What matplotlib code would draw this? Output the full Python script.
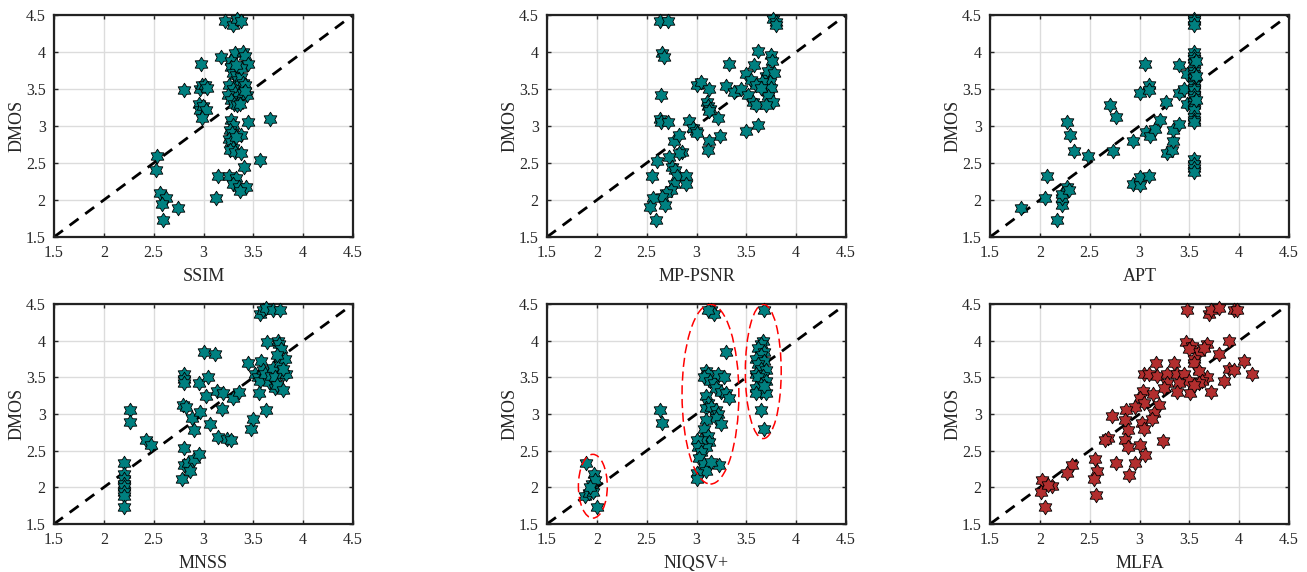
import numpy as np
import matplotlib
matplotlib.use("Agg")
import matplotlib.pyplot as plt
from matplotlib.path import Path
from matplotlib.patches import Ellipse

# ---- data (objective score vs DMOS) ----
ssim_x = [3.22, 3.30, 3.34, 3.38, 3.18, 2.97, 3.32, 3.40, 3.42, 3.45, 3.28,
          2.80, 2.96, 2.98, 3.02, 3.04, 2.95, 2.96, 2.99, 3.03, 2.98,
          3.28, 3.30, 3.33, 3.35, 3.38, 3.40, 3.42, 3.26, 3.30, 3.32, 3.35, 3.40, 3.44,
          3.25, 3.28, 3.31, 3.34, 3.37, 3.42, 3.38, 3.33,
          3.67, 3.45, 3.28, 3.30, 3.27, 3.29, 3.26, 3.28, 3.30, 3.27, 3.32, 3.38, 3.38, 3.33,
          3.57, 3.41, 3.15, 3.26, 3.33, 3.30, 3.36, 3.43, 3.37, 3.13,
          2.53, 2.52, 2.56, 2.62, 2.58, 2.74, 2.59]
ssim_y = [4.42, 4.37, 4.45, 4.42, 3.93, 3.84, 3.98, 4.00, 3.95, 3.84, 3.88,
          3.49, 3.50, 3.55, 3.55, 3.52, 3.30, 3.22, 3.27, 3.22, 3.11,
          3.80, 3.72, 3.69, 3.62, 3.66, 3.58, 3.55, 3.55, 3.50, 3.45, 3.40, 3.45, 3.42,
          3.42, 3.35, 3.30, 3.28, 3.30, 3.47, 3.78, 3.82,
          3.10, 3.05, 3.08, 3.02, 2.95, 2.90, 2.82, 2.78, 2.70, 2.68, 2.65, 2.88, 2.63, 2.85,
          2.54, 2.45, 2.33, 2.33, 2.30, 2.22, 2.18, 2.18, 2.12, 2.03,
          2.59, 2.40, 2.10, 2.03, 1.94, 1.89, 1.73]

mppsnr_x = [2.63, 2.71, 3.77, 3.80, 3.80, 2.65, 2.67,
            3.62, 3.75, 3.76, 3.58, 3.33, 3.50, 3.55, 3.70, 3.72, 3.78, 3.74, 3.66,
            3.00, 3.05, 3.13, 3.30, 3.38, 3.45, 3.52, 3.57, 3.60, 3.72, 3.75, 3.72, 3.77,
            3.70, 3.60, 3.65, 2.64, 3.11, 3.12, 3.14, 3.13, 3.22,
            2.63, 2.64, 2.71, 2.92, 2.96, 2.99, 3.00, 3.50, 3.62, 3.24, 3.13, 3.12,
            2.77, 2.82, 2.85, 2.82, 2.72, 2.60, 2.55, 2.75, 2.78, 2.80, 2.89, 2.89,
            2.77, 2.74, 2.69, 2.65, 2.56, 2.53, 2.68, 2.59]
mppsnr_y = [4.42, 4.42, 4.45, 4.40, 4.37, 3.99, 3.93,
            4.01, 3.96, 3.88, 3.82, 3.84, 3.70, 3.62, 3.68, 3.75, 3.72, 3.60, 3.60,
            3.55, 3.59, 3.50, 3.54, 3.46, 3.50, 3.42, 3.32, 3.28, 3.46, 3.52, 3.40, 3.33,
            3.28, 3.55, 3.52, 3.42, 3.33, 3.27, 3.23, 3.20, 3.11,
            3.09, 3.05, 3.05, 3.07, 2.97, 2.93, 2.90, 2.93, 3.02, 2.86, 2.80, 2.68,
            2.80, 2.88, 2.65, 2.63, 2.58, 2.53, 2.33, 2.45, 2.40, 2.33, 2.32, 2.21,
            2.22, 2.14, 2.10, 2.04, 2.03, 1.90, 1.93, 1.73]

apt_x = [1.81, 2.05, 2.07, 2.17, 2.22, 2.22, 2.22, 2.27, 2.29, 2.27, 2.30, 2.34,
         2.48, 2.73, 2.70, 2.76, 2.93, 2.93, 3.00, 3.01, 3.10, 3.01, 3.06, 3.10,
         3.10, 3.07, 3.11, 3.16, 3.21, 3.27, 3.28, 3.33, 3.34, 3.34, 3.40, 3.40,
         3.40, 3.45, 3.48, 3.48,
         3.55, 3.55, 3.55, 3.55, 3.55, 3.55, 3.55, 3.55, 3.55, 3.55, 3.55, 3.55,
         3.55, 3.55, 3.55, 3.55, 3.55, 3.55, 3.55, 3.55, 3.55, 3.55, 3.55, 3.55,
         3.55, 3.55, 3.57, 3.57, 3.57]
apt_y = [1.89, 2.03, 2.33, 1.73, 1.93, 2.03, 2.08, 2.18, 2.13, 3.05, 2.88, 2.66,
         2.59, 2.66, 3.28, 3.12, 2.80, 2.22, 2.20, 2.31, 2.33, 3.45, 3.84, 3.55,
         3.49, 2.92, 2.86, 2.96, 3.08, 3.33, 2.64, 2.67, 2.80, 2.94, 3.03, 3.45,
         3.82, 3.50, 3.30, 3.70,
         4.45, 4.42, 4.37, 4.00, 3.95, 3.90, 3.85, 3.75, 3.70, 3.65, 3.60, 3.55,
         3.52, 3.48, 3.42, 3.38, 3.32, 3.28, 3.22, 3.12, 3.08, 3.05, 2.55, 2.48,
         2.43, 2.38, 3.68, 3.35, 3.88]

mnss_x = [2.20, 2.20, 2.20, 2.20, 2.20, 2.20, 2.20, 2.20,
          2.26, 2.26, 2.42, 2.47,
          2.78, 2.80, 2.80, 2.84, 2.86, 2.90, 2.95, 2.80, 2.80, 2.80, 2.79, 2.82,
          2.88, 2.90, 2.96, 2.95, 3.00, 3.12, 3.05, 3.03, 3.07, 3.14, 3.20, 3.19,
          3.15, 3.24, 3.28, 3.30, 3.36, 3.48, 3.50, 3.63,
          3.45, 3.52, 3.55, 3.57, 3.56, 3.58, 3.60, 3.62, 3.64, 3.66, 3.68, 3.70,
          3.72, 3.72, 3.74, 3.75, 3.76, 3.77, 3.78, 3.80, 3.80, 3.82, 3.83, 3.80, 3.74,
          3.57, 3.60, 3.63, 3.70, 3.77]
mnss_y = [2.33, 2.18, 2.12, 2.05, 2.00, 1.93, 1.88, 1.73,
          3.05, 2.89, 2.65, 2.58,
          2.12, 2.53, 2.30, 2.33, 2.22, 2.38, 2.45, 3.55, 3.48, 3.42, 3.12, 3.09,
          2.95, 2.78, 3.03, 3.42, 3.84, 3.82, 3.50, 3.24, 2.86, 3.32, 3.28, 3.07,
          2.69, 2.66, 2.64, 3.22, 3.30, 2.80, 2.93, 3.05,
          3.70, 3.55, 3.50, 3.45, 3.29, 3.72, 3.60, 3.55, 3.98, 3.44, 3.52, 3.63,
          3.50, 3.35, 3.40, 4.00, 3.95, 3.70, 3.88, 3.55, 3.33, 3.75, 3.55, 3.62, 3.80,
          4.37, 4.42, 4.45, 4.42, 4.42]

niqsv_x = [1.89, 1.88, 1.92, 1.95, 1.97, 1.98, 1.96, 2.00, 1.93,
           2.63, 2.65,
           3.15, 3.18, 3.12, 3.30,
           3.10, 3.12, 3.08, 3.14, 3.18, 3.22, 3.28, 3.20, 3.25, 3.30, 3.33, 3.10,
           3.12, 3.10, 3.15, 3.20, 3.22, 3.20, 3.25, 3.10, 3.08, 3.12, 3.13, 3.10,
           3.05, 3.00, 3.02, 3.05, 3.03, 3.08, 3.10, 3.00, 3.00, 3.23, 3.15,
           3.68, 3.67, 3.65, 3.62, 3.68, 3.65, 3.60, 3.68, 3.62, 3.65, 3.70, 3.60,
           3.67, 3.62, 3.70, 3.65, 3.60, 3.65, 3.60, 3.70, 3.68, 3.65, 3.68]
niqsv_y = [2.33, 1.88, 1.92, 2.04, 2.18, 2.10, 1.93, 1.73, 2.00,
           3.05, 2.88,
           4.42, 4.37, 4.42, 3.84,
           3.58, 3.55, 3.50, 3.45, 3.42, 3.55, 3.50, 3.35, 3.30, 3.28, 3.22, 3.25,
           3.15, 3.08, 3.10, 3.05, 3.00, 2.95, 2.87, 2.92, 2.80, 2.70, 2.62, 2.55,
           2.65, 2.65, 2.55, 2.48, 2.40, 2.32, 2.22, 2.20, 2.12, 2.30, 2.35,
           4.42, 4.00, 3.95, 3.90, 3.85, 3.80, 3.75, 3.72, 3.68, 3.62, 3.60, 3.55,
           3.52, 3.50, 3.45, 3.40, 3.35, 3.30, 3.28, 3.28, 3.38, 3.05, 2.80]

mlfa_x = [3.48, 3.70, 3.72, 3.80, 3.95, 3.98,
          3.47, 3.53, 3.68, 3.90, 3.80, 3.60, 3.50, 3.55, 3.65,
          3.17, 3.35, 3.55, 4.05, 3.90, 3.95, 4.13, 3.85, 3.72, 3.68, 3.60, 3.63,
          3.05, 3.10, 3.18, 3.28, 3.38, 3.45, 3.50, 3.40, 3.28, 3.38, 3.51, 3.25,
          3.60, 3.55,
          3.04, 3.01, 3.14, 3.05, 2.95, 3.20, 3.15, 2.86, 2.72, 2.85, 3.03, 3.13,
          3.05, 2.88, 2.85, 2.88, 3.01, 2.68, 2.65, 3.24, 3.06, 2.76, 2.95, 2.89,
          2.32, 2.27, 2.55, 2.57, 2.54, 2.56, 2.02, 2.01, 2.12, 2.08, 2.05]
mlfa_y = [4.42, 4.37, 4.42, 4.45, 4.42, 4.42,
          3.98, 3.93, 3.95, 4.00, 3.82, 3.85, 3.88, 3.75, 3.90,
          3.70, 3.70, 3.70, 3.72, 3.62, 3.60, 3.55, 3.45, 3.30, 3.50, 3.58, 3.45,
          3.55, 3.55, 3.52, 3.55, 3.55, 3.55, 3.45, 3.42, 3.42, 3.30, 3.28, 3.35,
          3.42, 3.40,
          3.32, 3.22, 3.27, 3.15, 3.10, 3.12, 3.02, 3.05, 2.97, 2.92, 2.88, 2.93,
          2.80, 2.78, 2.65, 2.55, 2.58, 2.67, 2.65, 2.63, 2.44, 2.33, 2.33, 2.17,
          2.30, 2.20, 2.39, 2.22, 2.12, 1.89, 2.10, 1.93, 2.02, 2.03, 1.73]

metric_names = ["SSIM", "MP-PSNR", "APT", "MNSS", "NIQSV+", "MLFA"]
metric_x = [ssim_x, mppsnr_x, apt_x, mnss_x, niqsv_x, mlfa_x]
metric_y = [ssim_y, mppsnr_y, apt_y, mnss_y, niqsv_y, mlfa_y]

# red dashed ellipses on NIQSV+ panel: (center x, center y, width, height)
niqsv_ellipses = [(1.96, 2.015, 0.29, 0.87),
                  (3.14, 3.27, 0.57, 2.45),
                  (3.67, 3.58, 0.36, 1.83)]

ticks = [1.5, 2, 2.5, 3, 3.5, 4, 4.5]
tick_labels = ["1.5", "2", "2.5", "3", "3.5", "4", "4.5"]

TEAL = "#008080"
RED = "#B22E2E"
TXT = "#262626"

# MATLAB-style hexagram marker
ang = np.pi / 2 + np.arange(12) * np.pi / 6
rad = np.where(np.arange(12) % 2 == 0, 1.0, 0.6)
verts = np.column_stack([rad * np.cos(ang), rad * np.sin(ang)])
hexagram = Path(np.vstack([verts, verts[:1]]), closed=True)

plt.rcParams["font.family"] = ["Liberation Serif", "DejaVu Serif"]

fig = plt.figure(figsize=(13.07, 5.72), dpi=100)
lefts = [54, 547, 990]
rows = [(15, 237), (304, 524)]
W, H = 1307.0, 572.0

for i, name in enumerate(metric_names):
    r, c = divmod(i, 3)
    top, bot = rows[r]
    ax = fig.add_axes([lefts[c] / W, 1 - bot / H, 299 / W, (bot - top) / H])
    ax.grid(True, color="#dcdcdc", linewidth=1.0)
    ax.set_axisbelow(True)
    ax.plot([1.5, 4.5], [1.5, 4.5], "k--", linewidth=2, dashes=(4, 3), zorder=2)
    color = RED if name == "MLFA" else TEAL
    ax.plot(metric_x[i], metric_y[i], linestyle="none", marker=hexagram,
            markersize=10.5, markerfacecolor=color, markeredgecolor="black",
            markeredgewidth=0.6, zorder=3, clip_on=False)
    if name == "NIQSV+":
        for cx, cy, ew, eh in niqsv_ellipses:
            ax.add_patch(Ellipse((cx, cy), ew, eh, fill=False, edgecolor="red",
                                 linestyle=(0, (6, 3)), linewidth=1.1, zorder=4))
    ax.set_xlim(1.5, 4.5)
    ax.set_ylim(1.5, 4.5)
    ax.set_xticks(ticks)
    ax.set_xticklabels(tick_labels)
    ax.set_yticks(ticks)
    ax.set_yticklabels(tick_labels)
    ax.tick_params(direction="in", top=True, right=True, length=3, width=1.0,
                   labelsize=11.5, colors=TXT, pad=6)
    ax.tick_params(labelcolor=TXT)
    for sp in ax.spines.values():
        sp.set_linewidth(1.6)
        sp.set_color("#222222")
    ax.set_xlabel(name, fontsize=13, color=TXT, labelpad=5)
    ax.set_ylabel("DMOS", fontsize=13, color=TXT, labelpad=0)

fig.savefig("out.png", dpi=100)
